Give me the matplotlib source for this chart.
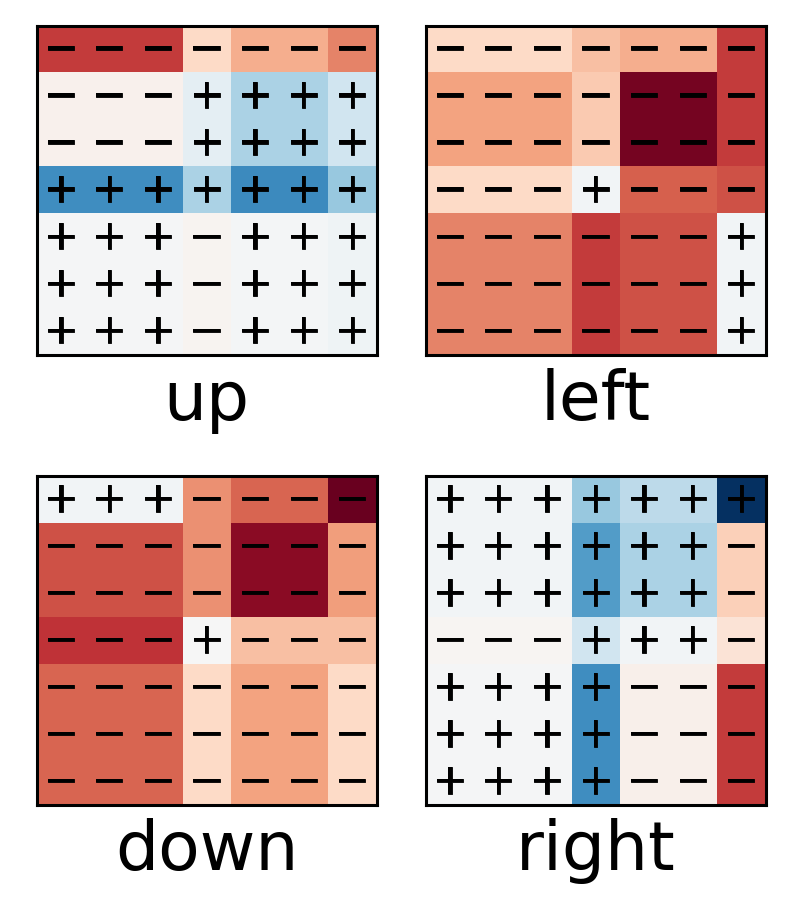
import matplotlib
matplotlib.use("Agg")
import matplotlib.pyplot as plt
import matplotlib.patheffects as pe
import numpy as np

titles = ["up", "left", "down", "right"]

up = [
    [-0.70, -0.70, -0.70, -0.20, -0.36, -0.36, -0.50],
    [-0.04, -0.04, -0.04, 0.10, 0.32, 0.32, 0.20],
    [-0.04, -0.04, -0.04, 0.10, 0.32, 0.32, 0.20],
    [0.62, 0.62, 0.62, 0.32, 0.64, 0.64, 0.38],
    [0.01, 0.01, 0.01, -0.03, 0.02, 0.02, 0.04],
    [0.01, 0.01, 0.01, -0.03, 0.02, 0.02, 0.04],
    [0.01, 0.01, 0.01, -0.03, 0.02, 0.02, 0.04],
]
left = [
    [-0.20, -0.20, -0.20, -0.30, -0.36, -0.36, -0.70],
    [-0.40, -0.40, -0.40, -0.26, -0.96, -0.96, -0.70],
    [-0.40, -0.40, -0.40, -0.26, -0.96, -0.96, -0.70],
    [-0.20, -0.20, -0.20, 0.03, -0.60, -0.60, -0.64],
    [-0.50, -0.50, -0.50, -0.70, -0.64, -0.64, 0.03],
    [-0.50, -0.50, -0.50, -0.70, -0.64, -0.64, 0.03],
    [-0.50, -0.50, -0.50, -0.70, -0.64, -0.64, 0.03],
]
down = [
    [0.03, 0.03, 0.03, -0.46, -0.58, -0.58, -0.99],
    [-0.64, -0.64, -0.64, -0.46, -0.90, -0.90, -0.42],
    [-0.64, -0.64, -0.64, -0.46, -0.90, -0.90, -0.42],
    [-0.72, -0.72, -0.72, 0.005, -0.30, -0.30, -0.30],
    [-0.58, -0.58, -0.58, -0.20, -0.40, -0.40, -0.20],
    [-0.58, -0.58, -0.58, -0.20, -0.40, -0.40, -0.20],
    [-0.58, -0.58, -0.58, -0.20, -0.40, -0.40, -0.20],
]
right = [
    [0.03, 0.03, 0.03, 0.38, 0.26, 0.26, 1.00],
    [0.03, 0.03, 0.03, 0.56, 0.32, 0.32, -0.24],
    [0.03, 0.03, 0.03, 0.56, 0.32, 0.32, -0.24],
    [-0.02, -0.02, -0.02, 0.20, 0.03, 0.03, -0.14],
    [0.01, 0.01, 0.01, 0.62, -0.05, -0.05, -0.70],
    [0.01, 0.01, 0.01, 0.62, -0.05, -0.05, -0.70],
    [0.01, 0.01, 0.01, 0.62, -0.05, -0.05, -0.70],
]

panels = [up, left, down, right]

W, H = 790, 911
fig = plt.figure(figsize=(W / 100, H / 100), dpi=100)

# pixel boxes: (left, top, right, bottom)
boxes = [
    (36.5, 25.5, 376.5, 355.0),
    (425.5, 25.5, 765.5, 355.0),
    (36.5, 476.0, 376.5, 805.0),
    (425.5, 476.0, 765.5, 805.0),
]

for data, title, (l, t, r, b) in zip(panels, titles, boxes):
    ax = fig.add_axes([l / W, 1 - b / H, (r - l) / W, (b - t) / H])
    arr = np.array(data)
    ax.imshow(arr, cmap="RdBu", vmin=-1, vmax=1, aspect="auto",
              interpolation="nearest")
    for i in range(arr.shape[0]):
        for j in range(arr.shape[1]):
            sign = "+" if arr[i, j] >= 0 else "\u2212"
            ax.text(j, i, sign, ha="center", va="center", fontsize=30,
                    color="black",
                    path_effects=[pe.withStroke(linewidth=0.6,
                                                foreground="black")])
    ax.set_xticks([])
    ax.set_yticks([])
    for s in ax.spines.values():
        s.set_linewidth(2.2)
        s.set_color("black")
    ax.text(0.5, -65 / (b - t), title, transform=ax.transAxes,
            ha="center", va="baseline", fontsize=49)

fig.savefig("out.png", dpi=100)
